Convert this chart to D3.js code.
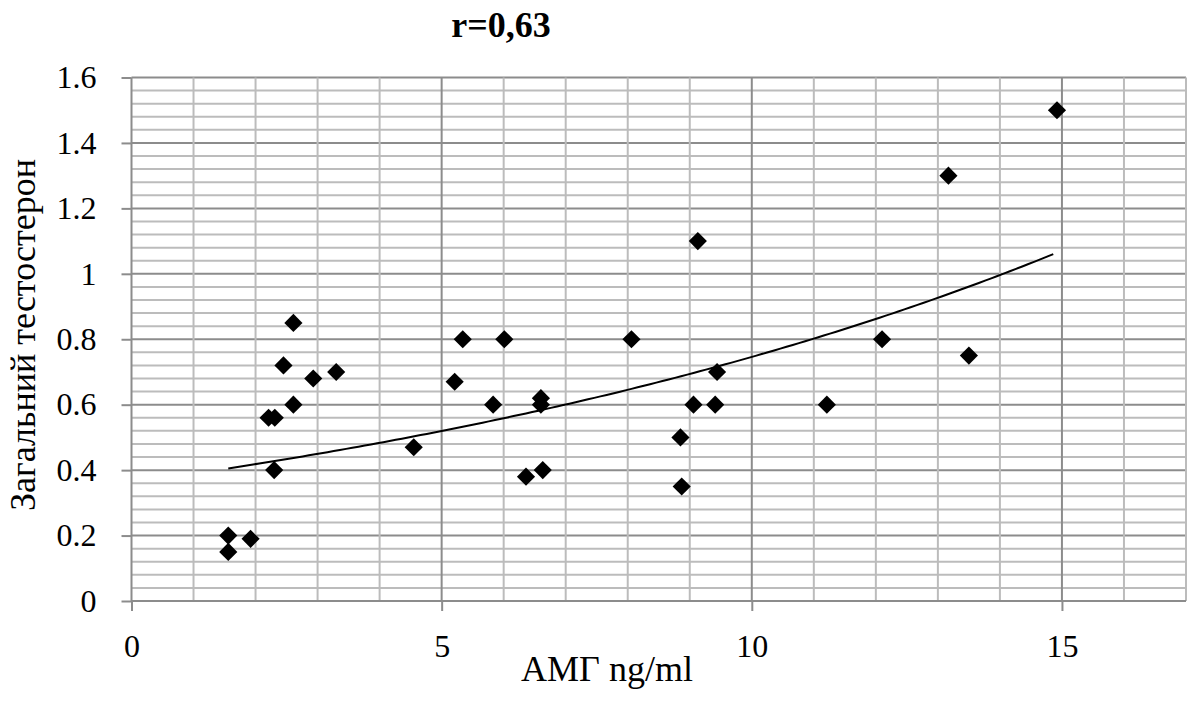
<!DOCTYPE html>
<html>
<head>
<meta charset="utf-8">
<script src="https://cdn.jsdelivr.net/npm/d3@7"></script>
<style>
	body { margin: 0; background: #fff; }
</style>
</head>
<body>
<div id="chart"></div>
<script>
// measured points: AMH (ng/ml) vs total testosterone
let amh = [1.56, 1.56, 1.92, 2.30, 2.21, 2.31, 2.45, 2.61, 2.61, 2.93, 3.30,
	4.55, 5.21, 5.34, 5.83, 6.01, 6.36, 6.60, 6.60, 6.63, 8.06,
	8.85, 8.87, 9.13, 9.06, 9.44, 9.41, 11.21, 12.10, 13.17, 13.50, 14.92];
let testo = [0.20, 0.15, 0.19, 0.40, 0.56, 0.56, 0.72, 0.60, 0.85, 0.68, 0.70,
	0.47, 0.67, 0.80, 0.60, 0.80, 0.38, 0.62, 0.60, 0.40, 0.80,
	0.50, 0.35, 1.10, 0.60, 0.70, 0.60, 0.60, 0.80, 1.30, 0.75, 1.50];

let xTicks = [0, 5, 10, 15];
let yTicks = [0, 0.2, 0.4, 0.6, 0.8, 1, 1.2, 1.4, 1.6];
let title = "r=0,63";
let xTitle = "АМГ ng/ml";
let yTitle = "Загальний тестостерон";

let serif = "'Liberation Serif', 'Times New Roman', 'DejaVu Serif', serif";

let width = 1187, height = 702;
let margin = { top: 77.5, right: 1, bottom: 101, left: 131.5 };

let svg = d3.select("#chart")
	.append("svg")
	.attr("width", width)
	.attr("height", height)
	.style("font-family", serif);

let x = d3.scaleLinear().domain([0, 17]).range([margin.left, width - margin.right]);
let y = d3.scaleLinear().domain([0, 1.6]).range([height - margin.bottom, margin.top]);

// grid: minor lines every 1 on x and 0.04 on y
let xMinor = d3.range(1, 18);
let yMinor = d3.range(1, 41).map(function (i) { return +(i * 0.04).toFixed(2); });

let grid = svg.append("g");
grid.selectAll(".hy")
	.data(yMinor)
	.enter().append("line")
	.attr("x1", x(0)).attr("x2", x(17))
	.attr("y1", function (d) { return y(d); })
	.attr("y2", function (d) { return y(d); })
	.attr("stroke", function (d) { return (Math.round(d * 100) % 20 == 0) ? "#8c8c8c" : "#bcbcbc"; })
	.attr("stroke-width", 2);

grid.selectAll(".vx")
	.data(xMinor)
	.enter().append("line")
	.attr("y1", y(0)).attr("y2", y(1.6))
	.attr("x1", function (d) { return x(d); })
	.attr("x2", function (d) { return x(d); })
	.attr("stroke", function (d) { return (d % 5 == 0) ? "#8c8c8c" : "#bcbcbc"; })
	.attr("stroke-width", 2);

// axes
let xAxis = svg.append("g")
	.attr("transform", "translate(0," + y(0) + ")")
	.call(d3.axisBottom(x).tickValues(xTicks).tickFormat(d3.format("d")).tickSize(10).tickPadding(23));

let yAxis = svg.append("g")
	.attr("transform", "translate(" + x(0) + ",0)")
	.call(d3.axisLeft(y).tickValues(yTicks).tickFormat(function (d) { return String(d); }).tickSize(10).tickPadding(25));

[xAxis, yAxis].forEach(function (a) {
	a.attr("font-family", null).attr("font-size", null);
	a.select(".domain").attr("stroke", "#8c8c8c").attr("stroke-width", 2);
	a.selectAll(".tick line").attr("stroke", "#8c8c8c").attr("stroke-width", 2);
	a.selectAll("text")
		.style("font-family", serif)
		.style("font-size", "32px")
		.attr("fill", "#000");
});
xAxis.select(".domain").attr("d", "M" + x(0) + ",0H" + x(17));
yAxis.select(".domain").attr("d", "M0," + y(0) + "V" + y(1.6));

// exponential trend line fitted to the points (least squares on ln y)
let n = amh.length;
let sx = d3.sum(amh), sl = d3.sum(testo, function (v) { return Math.log(v); });
let sxx = d3.sum(amh, function (v) { return v * v; });
let sxl = d3.sum(amh, function (v, i) { return v * Math.log(testo[i]); });
let b = (n * sxl - sx * sl) / (n * sxx - sx * sx);
let a = Math.exp((sl - b * sx) / n);
let xs = d3.range(d3.min(amh), d3.max(amh) + 0.001, 0.1);
svg.append("path")
	.datum(xs)
	.attr("fill", "none")
	.attr("stroke", "#000")
	.attr("stroke-width", 2)
	.attr("d", d3.line()
		.x(function (d) { return x(d); })
		.y(function (d) { return y(a * Math.exp(b * d)); }));

// points
svg.append("g")
	.selectAll("path")
	.data(amh)
	.enter().append("path")
	.attr("d", d3.symbol(d3.symbolSquare, 165))
	.attr("transform", function (d, i) { return "translate(" + x(d) + "," + y(testo[i]) + ") rotate(45)"; })
	.attr("fill", "#000");

// titles
svg.append("text")
	.attr("x", 501).attr("y", 37)
	.attr("text-anchor", "middle")
	.style("font-family", serif)
	.style("font-size", "36px")
	.style("font-weight", "bold")
	.text(title);

svg.append("text")
	.attr("x", 607).attr("y", 681)
	.attr("text-anchor", "middle")
	.style("font-family", serif)
	.style("font-size", "36px")
	.text(xTitle);

svg.append("text")
	.attr("transform", "translate(35," + 335 + ") rotate(-90)")
	.attr("text-anchor", "middle")
	.style("font-family", serif)
	.style("font-size", "36px")
	.text(yTitle);
</script>
</body>
</html>
